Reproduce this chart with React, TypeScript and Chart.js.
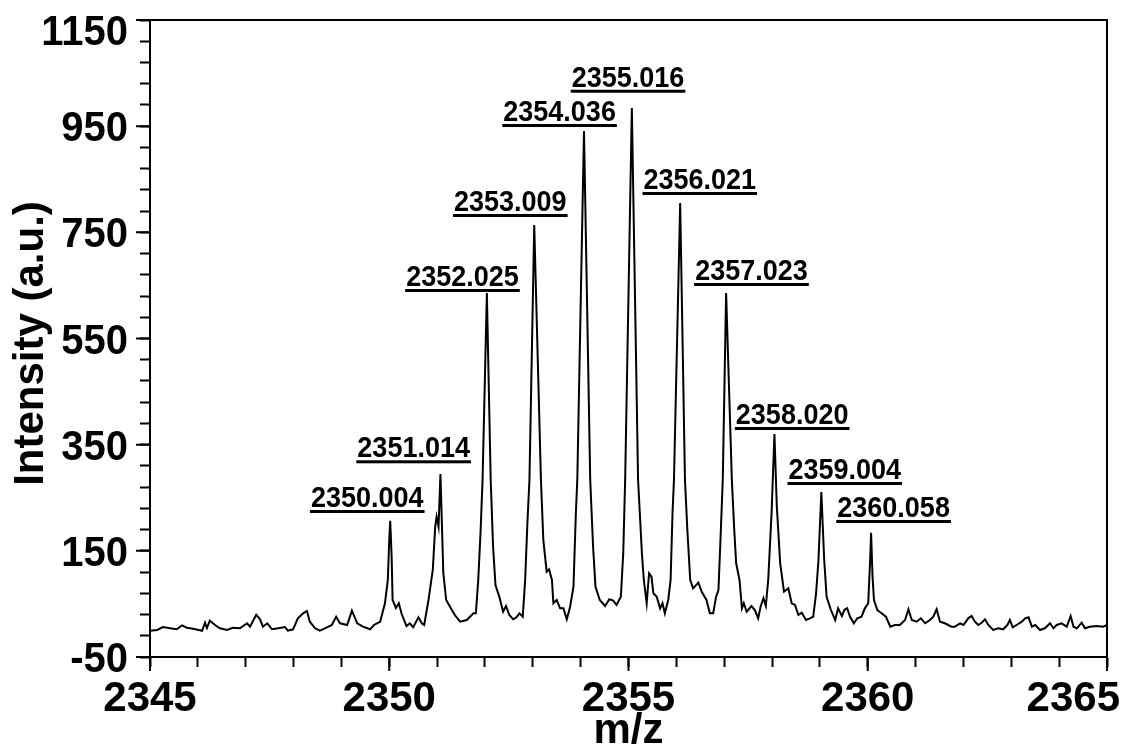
import React, { useEffect, useRef } from "react";
import { Chart, registerables } from "chart.js";

Chart.register(...registerables);

// m/z, intensity (a.u.)
const spectrum: [number, number][] = [
  [2345.0, -0.5], [2345.15, 0.9], [2345.27, 6.5], [2345.42, 4.1], [2345.56, 2.2], [2345.67, 9.7],
  [2345.77, 5.2], [2345.9, 3.3], [2346.09, -0.5], [2346.15, 14.6], [2346.19, 4.6], [2346.25, 18.4],
  [2346.36, 10.3], [2346.46, 4.1], [2346.61, 0.9], [2346.73, 5.2], [2346.88, 4.1], [2347.03, 13.5],
  [2347.09, 7.1], [2347.22, 29.7], [2347.3, 21.0], [2347.36, 7.1], [2347.45, 13.5], [2347.55, 2.2],
  [2347.68, 4.1], [2347.82, 6.5], [2347.88, -0.5], [2347.99, 2.2], [2348.09, 22.9], [2348.2, 32.3],
  [2348.28, 36.7], [2348.34, 16.5], [2348.45, 4.1], [2348.55, -0.5],
  [2348.7, 5.9], [2348.8, 10.3], [2348.89, 25.9], [2348.97, 13.5], [2349.12, 10.3], [2349.22, 37.2],
  [2349.33, 13.5], [2349.45, 7.1], [2349.6, 2.2], [2349.68, 10.3], [2349.81, 16.5], [2349.91, 51.2],
  [2349.97, 95.1], [2350.0, 170.4], [2350.02, 206.8], [2350.05, 138.9], [2350.07, 57.4], [2350.14, 42.3],
  [2350.2, 51.2], [2350.26, 31.0], [2350.36, 8.4], [2350.43, 13.5], [2350.5, 5.9], [2350.61, 24.8],
  [2350.68, 13.5], [2350.73, 10.3], [2350.82, 57.4], [2350.91, 113.9], [2350.96, 195.5], [2350.99, 214.3],
  [2351.03, 195.5], [2351.07, 294.7], [2351.13, 108.2], [2351.19, 57.4], [2351.27, 44.8], [2351.37, 29.1],
  [2351.48, 16.5],
  [2351.62, 19.7], [2351.76, 32.3], [2351.81, 32.3], [2351.86, 95.1], [2351.91, 189.2], [2351.95, 283.4],
  [2352.04, 635.7], [2352.12, 283.4], [2352.17, 157.8], [2352.22, 85.6], [2352.3, 63.6], [2352.38, 35.3],
  [2352.44, 46.1], [2352.51, 29.1], [2352.59, 21.0], [2352.66, 24.8], [2352.72, 32.3], [2352.79, 25.9],
  [2352.84, 95.1], [2352.89, 208.1], [2352.93, 283.4], [2353.03, 763.8], [2353.17, 283.4], [2353.22, 170.4],
  [2353.29, 110.7], [2353.34, 115.2], [2353.4, 95.1], [2353.43, 51.2], [2353.5, 57.4], [2353.57, 41.7],
  [2353.64, 41.7], [2353.71, 21.0], [2353.78, 44.8], [2353.85, 82.4], [2353.9, 221.3], [2353.93, 283.4],
  [2354.07, 940.9], [2354.2, 283.4], [2354.26, 157.8], [2354.31, 82.4], [2354.4, 57.4], [2354.51, 46.1],
  [2354.6, 58.7], [2354.68, 56.1], [2354.75, 48.0], [2354.84, 63.6], [2354.89, 145.4], [2354.93, 283.4],
  [2355.07, 984.2],
  [2355.2, 283.4], [2355.28, 145.4], [2355.32, 95.1], [2355.38, 51.2], [2355.43, 107.7], [2355.48, 101.3],
  [2355.52, 70.0], [2355.59, 63.6], [2355.66, 41.7], [2355.71, 51.2], [2355.76, 32.3], [2355.83, 57.4],
  [2355.88, 95.1], [2355.92, 221.3], [2355.95, 283.4], [2356.08, 805.2], [2356.18, 283.4], [2356.23, 189.2],
  [2356.29, 95.1], [2356.35, 79.4], [2356.46, 90.0], [2356.53, 73.0], [2356.63, 57.4], [2356.7, 32.3],
  [2356.77, 32.3], [2356.83, 63.6], [2356.88, 76.2], [2356.93, 189.2], [2356.97, 283.4], [2357.04, 635.7],
  [2357.16, 283.4], [2357.21, 189.2], [2357.25, 126.5], [2357.32, 95.1], [2357.37, 41.7], [2357.41, 51.2],
  [2357.47, 35.3], [2357.57, 46.1], [2357.64, 38.5], [2357.71, 22.9], [2357.76, 44.8], [2357.82, 60.6],
  [2357.87, 46.1], [2357.92, 95.1], [2357.99, 221.3], [2358.05, 370.1], [2358.1, 233.1], [2358.17, 126.5],
  [2358.25, 73.0], [2358.34, 79.4], [2358.41, 51.2], [2358.48, 48.0], [2358.55, 29.1], [2358.62, 33.5],
  [2358.71, 19.7], [2358.79, 22.9],
  [2358.86, 25.9], [2358.92, 70.0], [2358.97, 132.7], [2359.03, 260.8], [2359.09, 132.7], [2359.14, 63.6],
  [2359.23, 38.5], [2359.32, 19.7], [2359.38, 41.7], [2359.46, 27.2], [2359.51, 38.5], [2359.57, 41.7],
  [2359.63, 25.9], [2359.71, 13.5], [2359.78, 22.9], [2359.87, 25.9], [2359.94, 41.7], [2360.01, 51.2],
  [2360.05, 132.7], [2360.07, 184.2], [2360.1, 101.3], [2360.13, 57.4], [2360.2, 38.5], [2360.29, 32.3],
  [2360.38, 25.9], [2360.47, 7.1], [2360.57, 10.3], [2360.67, 10.3], [2360.78, 19.7], [2360.85, 39.9],
  [2360.92, 19.7], [2361.02, 16.5], [2361.11, 22.9], [2361.2, 13.5], [2361.3, 19.7], [2361.37, 25.9],
  [2361.44, 39.9], [2361.51, 16.5], [2361.61, 13.5], [2361.75, 7.1],
  [2361.82, 7.1], [2361.93, 13.5], [2362.0, 10.3], [2362.1, 22.9], [2362.17, 27.2], [2362.24, 16.5],
  [2362.31, 10.3], [2362.38, 14.6], [2362.45, 21.0], [2362.52, 10.3], [2362.62, 0.9], [2362.73, 4.1],
  [2362.83, 2.2], [2362.92, 10.3], [2362.97, 19.7], [2363.03, 5.9], [2363.11, 10.3], [2363.22, 16.5],
  [2363.29, 22.9], [2363.36, 24.8], [2363.43, 7.1], [2363.5, 10.3], [2363.6, 0.9], [2363.7, 4.1],
  [2363.81, 13.5], [2363.88, 4.1], [2363.95, 10.3], [2364.05, 13.5], [2364.16, 7.1], [2364.24, 27.2],
  [2364.3, 7.1], [2364.37, 4.1], [2364.47, 14.6], [2364.54, 4.1], [2364.64, 7.1], [2364.78, 8.4],
  [2364.92, 7.1], [2365.0, 10.3],
];

// peak annotations: text, label centre (m/z), label baseline (intensity)
const peakLabelTexts = [
  "2350.004", "2351.014", "2352.025", "2353.009", "2354.036", "2355.016",
  "2356.021", "2357.023", "2358.020", "2359.004", "2360.058",
];
const peakLabelMz = [
  2349.54, 2350.51, 2351.53, 2352.53, 2353.56, 2354.99, 2356.49, 2357.57, 2358.42, 2359.52, 2360.54,
];
const peakLabelIntensity = [
  232.6, 326.2, 648.9, 790.2, 959.7, 1024.3, 831.6, 660.2, 388.9, 285.3, 213.7,
];

const xTickValues = [
  2345, 2346, 2347, 2348, 2349, 2350, 2351, 2352, 2353, 2354, 2355,
  2356, 2357, 2358, 2359, 2360, 2361, 2362, 2363, 2364, 2365,
];
const xTickLabels = [2345, 2350, 2355, 2360, 2365];
const yTickValues = [
  -50, -10, 30, 70, 110, 150, 190, 230, 270, 310, 350, 390, 430, 470, 510, 550,
  590, 630, 670, 710, 750, 790, 830, 870, 910, 950, 990, 1030, 1070, 1110, 1150,
];
const yTickLabels = [-50, 150, 350, 550, 750, 950, 1150];

const xTitle = "m/z";
const yTitle = "Intensity (a.u.)";

const FONT = '"Liberation Sans", Arial, Helvetica, sans-serif';

const overlay = {
  id: "overlay",
  afterDraw(chart: any) {
    const ctx: CanvasRenderingContext2D = chart.ctx;
    const { left, right, top, bottom } = chart.chartArea;
    const xs = chart.scales.x;
    const ys = chart.scales.y;
    const W = chart.width;
    ctx.save();
    ctx.strokeStyle = "#000";
    ctx.fillStyle = "#000";
    ctx.lineWidth = 2;
    // frame
    ctx.strokeRect(left, top, right - left, bottom - top);
    // longer major ticks
    ctx.beginPath();
    xTickLabels.forEach((v) => {
      const px = xs.getPixelForValue(v);
      ctx.moveTo(px, bottom);
      ctx.lineTo(px, bottom + 14);
    });
    yTickLabels.forEach((v) => {
      const py = ys.getPixelForValue(v);
      ctx.moveTo(left, py);
      ctx.lineTo(left - 14, py);
    });
    ctx.stroke();

    // y tick labels
    ctx.font = `bold 40px ${FONT}`;
    ctx.textAlign = "right";
    ctx.textBaseline = "alphabetic";
    yTickLabels.forEach((v) => {
      const py = ys.getPixelForValue(v);
      const by = Math.max(py + 15, top + 25);
      ctx.save();
      ctx.translate(left - 22, by);
      ctx.scale(1, 1.06);
      ctx.fillText(String(v), 0, 0);
      ctx.restore();
    });

    // x tick labels
    ctx.font = `bold 42px ${FONT}`;
    ctx.textAlign = "center";
    xTickLabels.forEach((v) => {
      const t = String(v);
      const w = ctx.measureText(t).width;
      let px = xs.getPixelForValue(v);
      px = Math.min(px, W - 5 - w / 2);
      ctx.fillText(t, px, bottom + 54);
    });

    // axis titles
    ctx.font = `bold 42px ${FONT}`;
    ctx.textAlign = "center";
    ctx.fillText(xTitle, (left + right) / 2, bottom + 86);
    ctx.save();
    ctx.translate(43, (top + bottom) / 2 + 5);
    ctx.rotate(-Math.PI / 2);
    ctx.fillText(yTitle, 0, 0);
    ctx.restore();

    // peak labels (underlined)
    ctx.font = `bold 27px ${FONT}`;
    ctx.textAlign = "center";
    peakLabelTexts.forEach((t, i) => {
      const px = xs.getPixelForValue(peakLabelMz[i]);
      const py = ys.getPixelForValue(peakLabelIntensity[i]);
      const w = ctx.measureText(t).width;
      ctx.save();
      ctx.translate(px, py);
      ctx.scale(1, 1.12);
      ctx.fillText(t, 0, 0);
      ctx.restore();
      ctx.fillRect(px - w / 2 - 1, py + 3, w + 2, 3);
    });
    ctx.restore();
  },
};

export default function App() {
  const ref = useRef<HTMLCanvasElement>(null);
  useEffect(() => {
    const canvas = ref.current;
    if (!canvas) return;
    const chart = new Chart(canvas, {
      type: "line",
      data: {
        datasets: [
          {
            data: spectrum.map(([x, y]) => ({ x, y })),
            borderColor: "#000",
            borderWidth: 2,
            pointRadius: 0,
            tension: 0,
            fill: false,
          },
        ],
      },
      options: {
        animation: false,
        responsive: true,
        maintainAspectRatio: false,
        layout: { padding: { left: 0, right: 18, top: 20, bottom: 0 } },
        plugins: { legend: { display: false }, tooltip: { enabled: false } },
        scales: {
          x: {
            type: "linear",
            min: 2345,
            max: 2365,
            afterBuildTicks: (axis: any) => {
              axis.ticks = xTickValues.map((v) => ({ value: v }));
            },
            afterFit: (s: any) => {
              s.height = 92;
            },
            ticks: { display: false },
            grid: {
              drawOnChartArea: false,
              drawTicks: true,
              tickLength: 10,
              tickWidth: 2,
              tickColor: "#000",
            },
            border: { display: true, color: "#000", width: 2 },
          },
          y: {
            type: "linear",
            min: -50,
            max: 1150,
            afterBuildTicks: (axis: any) => {
              axis.ticks = yTickValues.map((v) => ({ value: v }));
            },
            afterFit: (s: any) => {
              s.width = 150;
            },
            ticks: { display: false },
            grid: {
              drawOnChartArea: false,
              drawTicks: true,
              tickLength: 10,
              tickWidth: 2,
              tickColor: "#000",
            },
            border: { display: true, color: "#000", width: 2 },
          },
        },
      } as any,
      plugins: [overlay],
    });
    return () => chart.destroy();
  }, []);
  return (
    <div
      style={{
        position: "fixed",
        left: 0,
        top: 0,
        width: 1125,
        height: 749,
        background: "#fff",
      }}
    >
      <canvas ref={ref} />
    </div>
  );
}
